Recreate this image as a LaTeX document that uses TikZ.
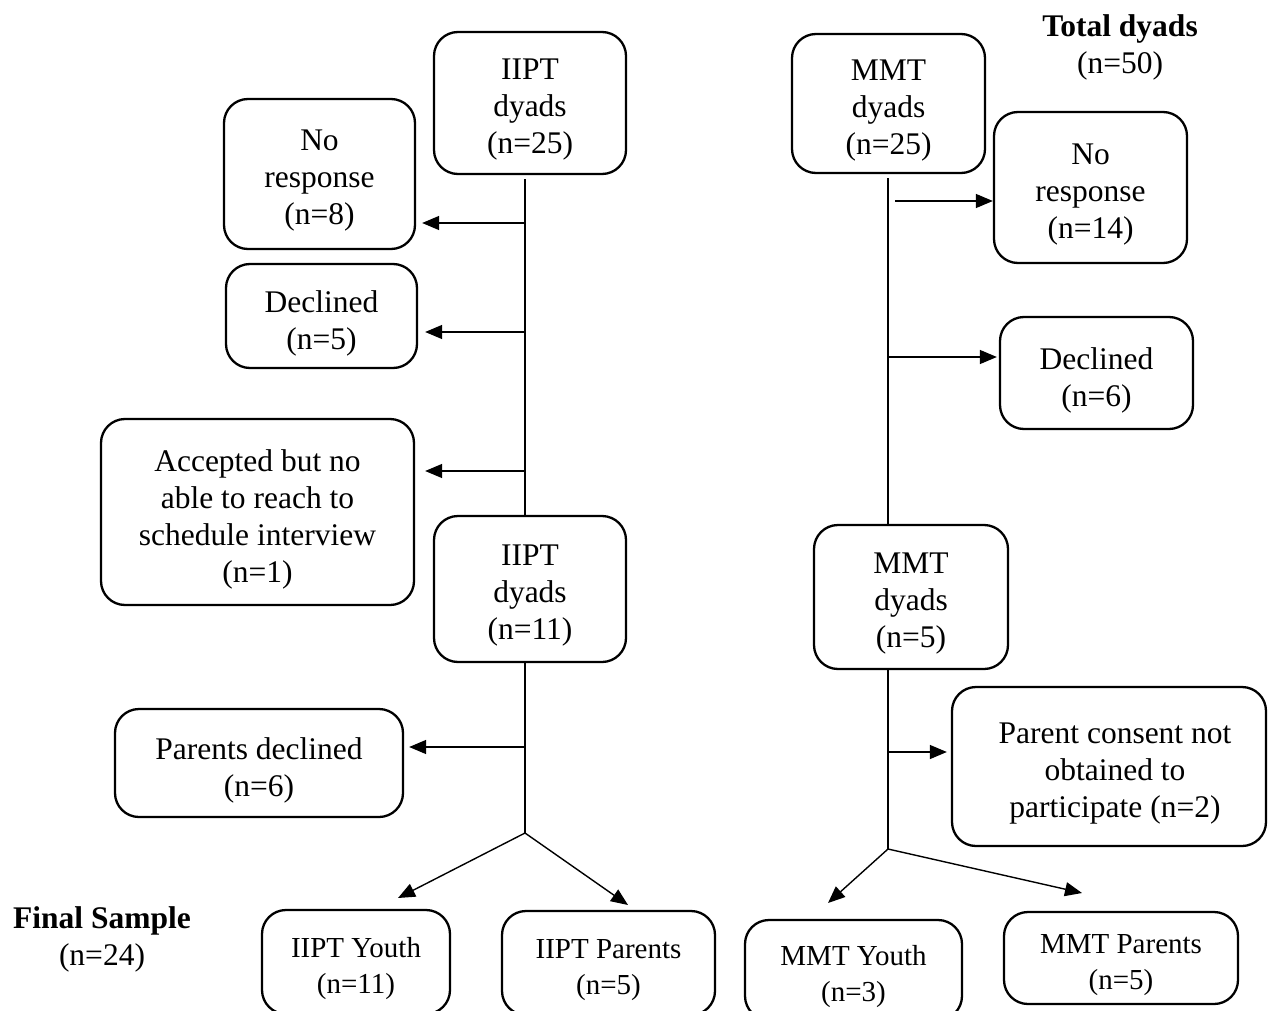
\documentclass[tikz,border=0pt]{standalone}
\usepackage{fontspec}
\setmainfont{Liberation Serif}
\usetikzlibrary{arrows.meta}
\begin{document}
\begin{tikzpicture}[x=1pt,y=-1pt,
  box/.style={draw, line width=2.3pt, rounded corners=24pt, inner sep=0pt},
  txt/.style={align=center, inner sep=0pt, yshift=-7pt,
    font=\fontsize{31.5}{37}\selectfont},
  smalltxt/.style={align=center, inner sep=0pt, yshift=-7pt,
    font=\fontsize{29}{36}\selectfont},
  conn/.style={line width=1.4pt},
  arr/.style={conn, -{Triangle[length=17pt,width=14pt]}},
  lbl/.style={align=center, inner sep=0pt, font=\fontsize{31.5}{37}\selectfont}]
\path[use as bounding box, clip] (0,0) rectangle (1268,1011);

% IIPT column
\node[box, minimum width=192pt, minimum height=142pt,
  label={[txt]center:{IIPT\\dyads\\(n=25)}}] (iiptA) at (530,103) {};
\node[box, minimum width=191pt, minimum height=150pt,
  label={[txt]center:{No\\response\\(n=8)}}] (noRespL) at (319.5,174) {};
\node[box, minimum width=191pt, minimum height=104pt,
  label={[txt]center:{Declined\\(n=5)}}] (declL) at (321.5,316) {};
\node[box, minimum width=313pt, minimum height=186pt,
  label={[txt]center:{Accepted but no\\able to reach to\\schedule interview\\(n=1)}}] (accL) at (257.5,512) {};
\node[box, minimum width=192pt, minimum height=146pt,
  label={[txt]center:{IIPT\\dyads\\(n=11)}}] (iiptB) at (530,589) {};
\node[box, minimum width=288pt, minimum height=108pt,
  label={[txt]center:{Parents declined\\(n=6)}}] (parDecl) at (259,763) {};

% MMT column
\node[box, minimum width=193pt, minimum height=139pt,
  label={[txt]center:{MMT\\dyads\\(n=25)}}] (mmtA) at (888.5,103.5) {};
\node[box, minimum width=193pt, minimum height=151pt,
  label={[txt]center:{No\\response\\(n=14)}}] (noRespR) at (1090.5,187.5) {};
\node[box, minimum width=193pt, minimum height=112pt,
  label={[txt]center:{Declined\\(n=6)}}] (declR) at (1096.5,373) {};
\node[box, minimum width=194pt, minimum height=144pt,
  label={[txt]center:{MMT\\dyads\\(n=5)}}] (mmtB) at (911,597) {};
\node[box, minimum width=314pt, minimum height=159pt,
  label={[txt, xshift=6pt]center:{Parent consent not\\obtained to\\participate (n=2)}}] (consent) at (1109,766.5) {};

% Totals
\node[lbl] (total) at (1120,47) {\textbf{Total dyads}\\(n=50)};
\node[lbl] (final) at (102,939) {\textbf{Final Sample}\\(n=24)};

% Final sample boxes
\node[box, minimum width=188pt, minimum height=104pt,
  label={[smalltxt]center:{IIPT Youth\\(n=11)}}] (youthL) at (356,962) {};
\node[box, minimum width=213pt, minimum height=104pt,
  label={[smalltxt]center:{IIPT Parents\\(n=5)}}] (parL) at (608.5,963) {};
\node[box, minimum width=217pt, minimum height=100pt,
  label={[smalltxt]center:{MMT Youth\\(n=3)}}] (youthR) at (853.5,970) {};
\node[box, minimum width=234pt, minimum height=92pt,
  label={[smalltxt]center:{MMT Parents\\(n=5)}}] (parR) at (1121,958) {};

% Left trunk and branches
\coordinate (lx) at (525,0);
\coordinate (l1) at (525,223);
\coordinate (l2) at (525,332);
\coordinate (l3) at (525,471);
\coordinate (l4) at (525,747);
\coordinate (lSplit) at (525,833);
\coordinate (lTipY) at (398,898);
\coordinate (lTipP) at (628,905);
\draw[conn] (iiptA.south -| lx) ++(0,4) -- (iiptB.north -| lx);
\draw[conn] (iiptB.south -| lx) -- (lSplit);
\draw[arr, shorten >=6pt] (l1) -- (l1 -| noRespL.east);
\draw[arr, shorten >=7pt] (l2) -- (l2 -| declL.east);
\draw[arr, shorten >=10pt] (l3) -- (l3 -| accL.east);
\draw[arr, shorten >=5pt] (l4) -- (l4 -| parDecl.east);
\draw[arr] (lSplit) -- (lTipY);
\draw[arr] (lSplit) -- (lTipP);

% Right trunk and branches
\coordinate (rx) at (888,0);
\coordinate (r1) at (895,201);
\coordinate (r2) at (888,357);
\coordinate (r3) at (888,752);
\coordinate (rSplit) at (888,849);
\coordinate (rTipY) at (828,903);
\coordinate (rTipP) at (1082,893);
\draw[conn] (mmtA.south -| rx) ++(0,4) -- (mmtB.north -| rx);
\draw[conn] (mmtB.south -| rx) -- (rSplit);
\draw[arr] (r1) -- (r1 -| noRespR.west);
\draw[arr, shorten >=2pt] (r2) -- (r2 -| declR.west);
\draw[arr, shorten >=4pt] (r3) -- (r3 -| consent.west);
\draw[arr] (rSplit) -- (rTipY);
\draw[arr] (rSplit) -- (rTipP);
\end{tikzpicture}
\end{document}
